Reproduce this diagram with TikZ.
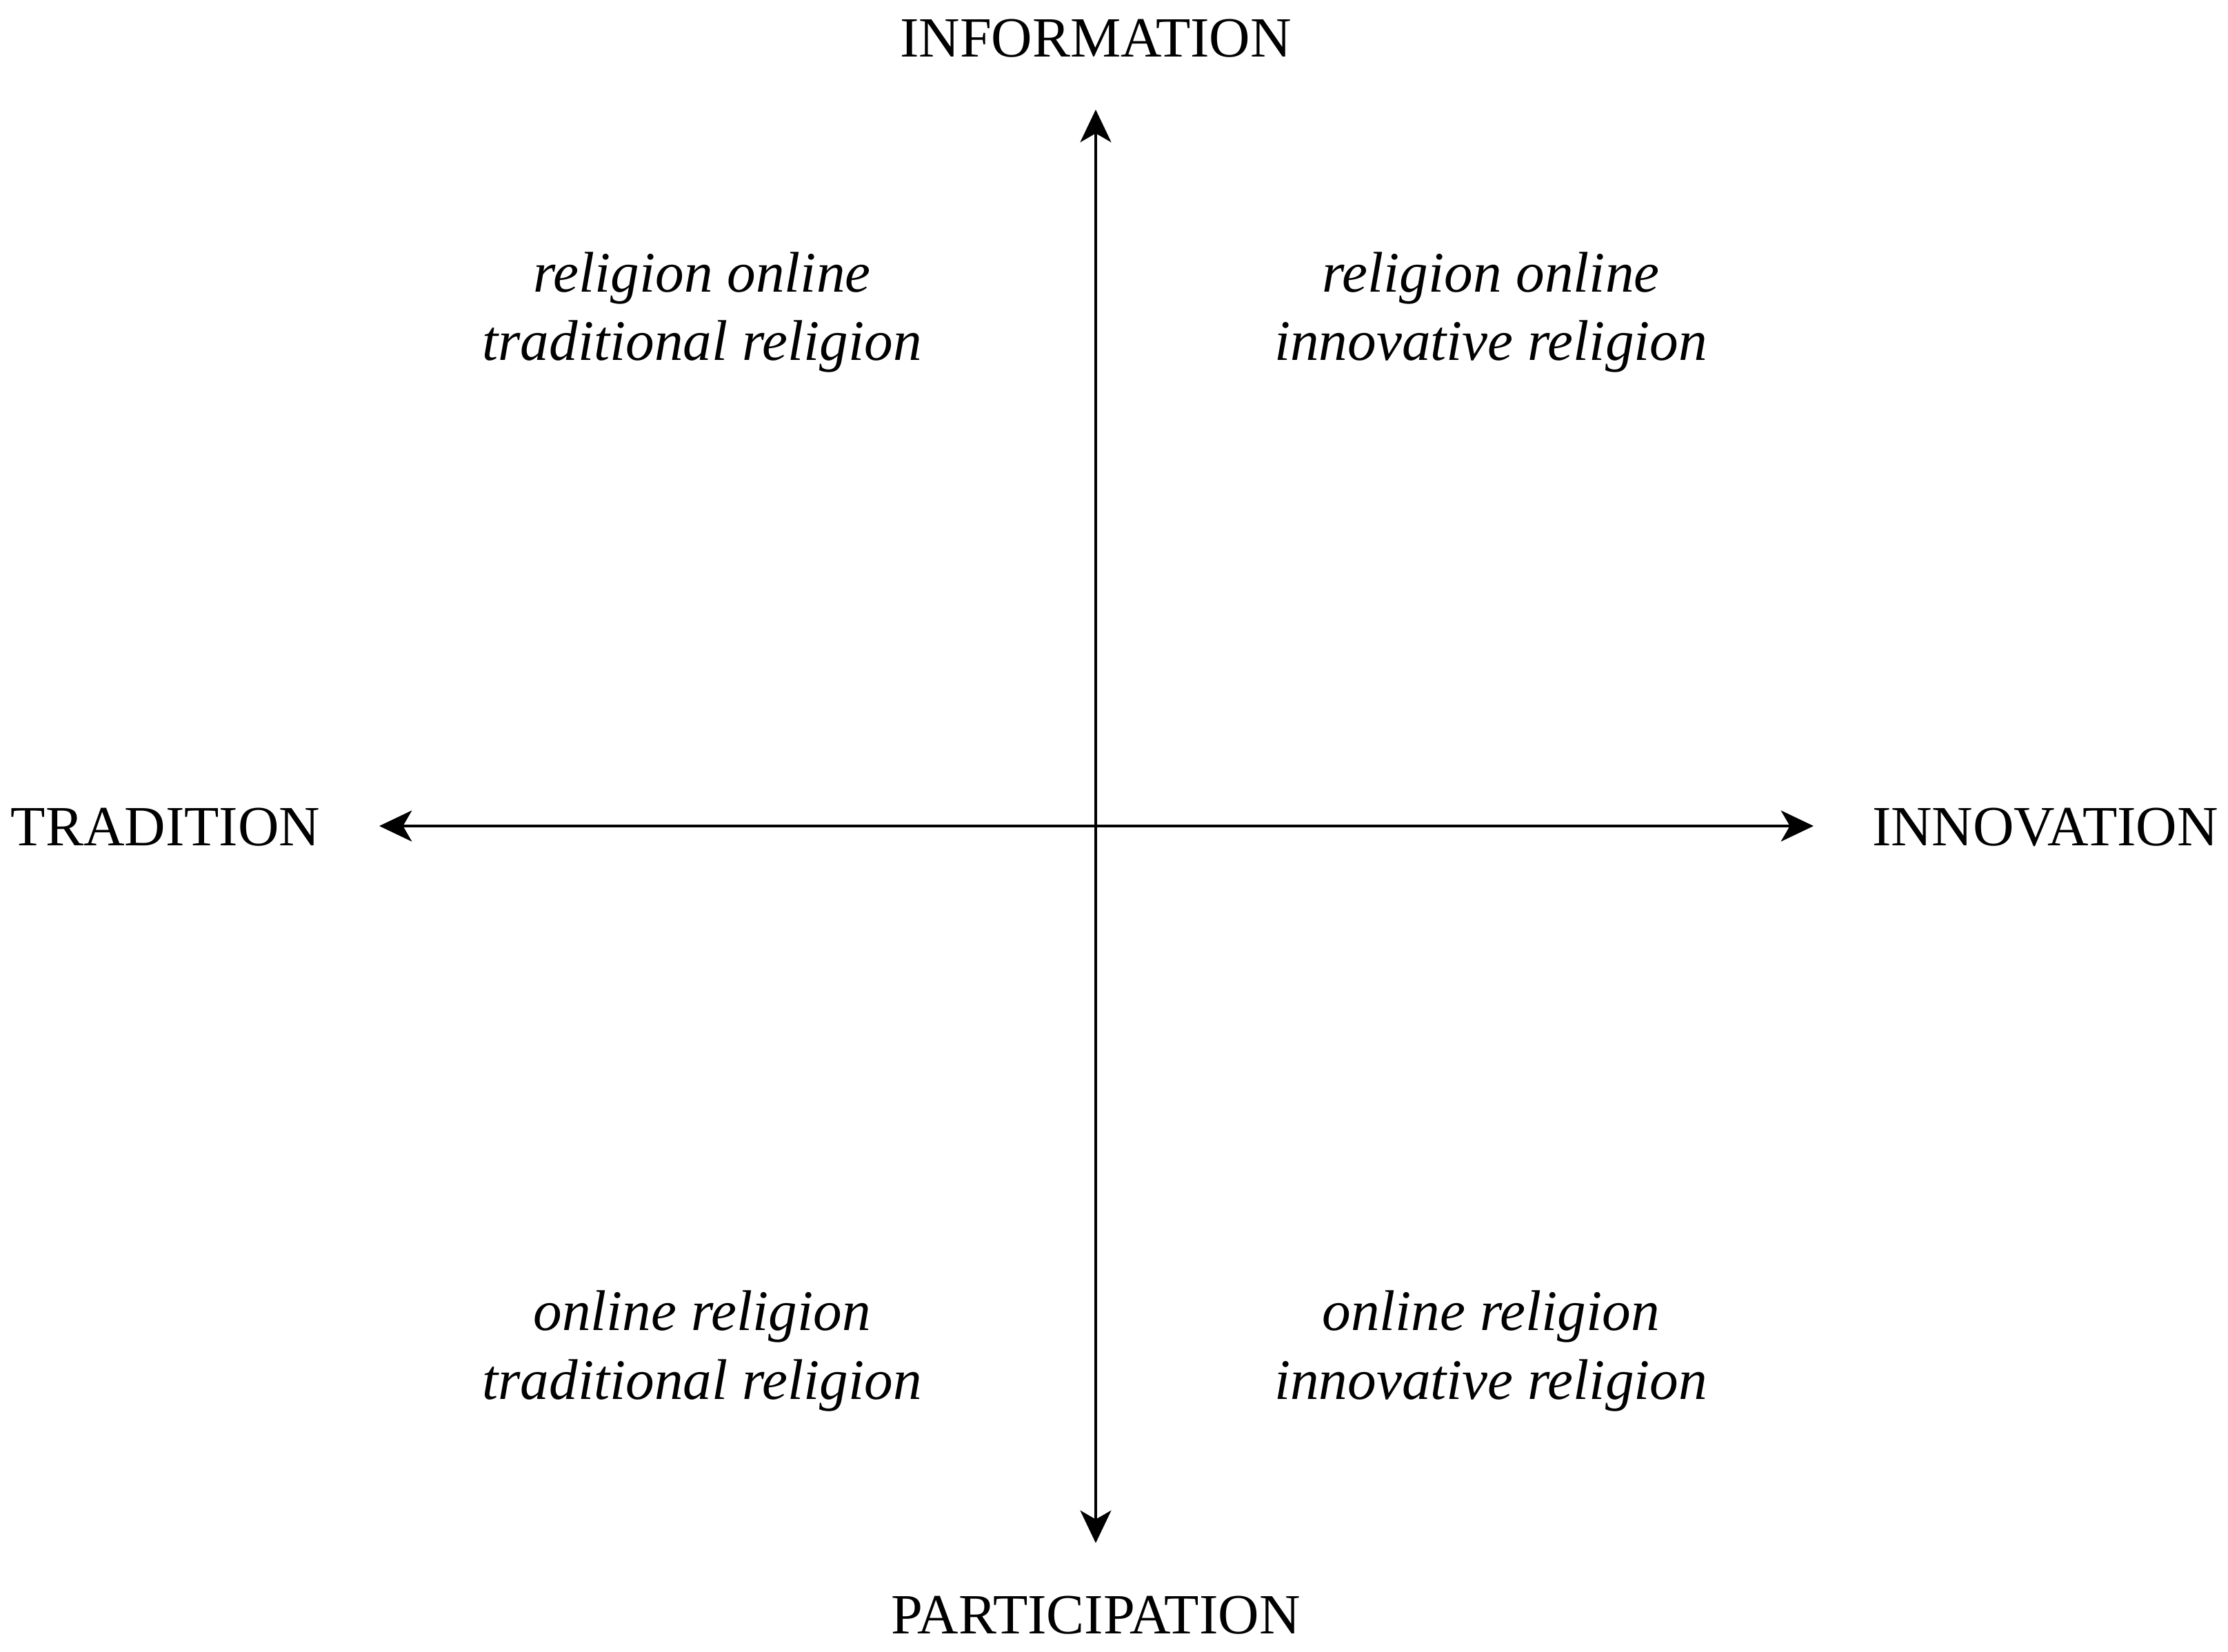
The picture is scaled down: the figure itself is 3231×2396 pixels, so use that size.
\documentclass[tikz,border=0pt]{standalone}
\usepackage{fontspec}
\setmainfont{Liberation Serif}
\usetikzlibrary{arrows.meta}
\begin{document}
\begin{tikzpicture}[x=0.125pt,y=-0.125pt,
  axislbl/.style={inner sep=0pt,anchor=base,font=\fontsize{10.3}{12}\selectfont},
  quadlbl/.style={inner sep=0pt,anchor=base,align=center,font=\fontsize{10.4}{12.5}\selectfont\itshape},
  axisline/.style={line width=0.55pt,{Stealth[length=5.9pt,width=5.6pt,inset=1.6pt]}-{Stealth[length=5.9pt,width=5.6pt,inset=1.6pt]}}]
\useasboundingbox[fill=white] (0,0) rectangle (3231,2396);
\coordinate (L) at (550,1198);
\coordinate (R) at (2630,1198);
\coordinate (T) at (1589,159);
\coordinate (B) at (1589,2238);
\draw[axisline] (L) -- (R);
\draw[axisline] (T) -- (B);
\node[axislbl] (info) at (1589,83) {INFORMATION};
\node[axislbl] (part) at (1589,2370) {PARTICIPATION};
\node[axislbl] (trad) at (240,1227) {TRADITION};
\node[axislbl] (inno) at (2966,1227) {INNOVATION};
\node[quadlbl] (tl) at (1018,523) {religion online\\traditional religion};
\node[quadlbl] (tr) at (2162,523) {religion online\\innovative religion};
\node[quadlbl] (bl) at (1018,2029) {online religion\\traditional religion};
\node[quadlbl] (br) at (2162,2029) {online religion\\innovative religion};
\end{tikzpicture}
\end{document}
